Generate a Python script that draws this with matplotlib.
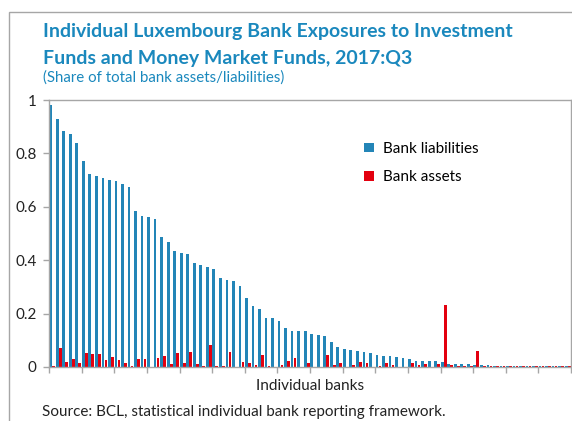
import numpy as np
import matplotlib.pyplot as plt
import matplotlib.patches as mpatches

plt.rcParams['font.family'] = ['Lato', 'DejaVu Sans']

# share of total bank liabilities / assets, one entry per bank (sorted by liabilities)
liabilities = [0.981, 0.928, 0.884, 0.873, 0.839, 0.770, 0.723, 0.715, 0.708, 0.700,
               0.697, 0.685, 0.673, 0.585, 0.564, 0.560, 0.555, 0.486, 0.470, 0.433,
               0.426, 0.423, 0.389, 0.381, 0.373, 0.368, 0.333, 0.325, 0.323, 0.304,
               0.258, 0.229, 0.219, 0.184, 0.184, 0.171, 0.145, 0.136, 0.136, 0.134,
               0.124, 0.120, 0.115, 0.095, 0.076, 0.066, 0.065, 0.061, 0.055, 0.053,
               0.044, 0.041, 0.041, 0.039, 0.034, 0.029, 0.024, 0.022, 0.022, 0.021,
               0.019, 0.012, 0.012, 0.012, 0.012, 0.008, 0.006, 0.006, 0.003, 0.003,
               0.003, 0.003, 0.002, 0.002, 0.002, 0.002, 0.002, 0.002, 0.002, 0.002]
assets = [0.002, 0.073, 0.019, 0.030, 0.016, 0.051, 0.049, 0.049, 0.025, 0.036,
          0.028, 0.014, 0.002, 0.030, 0.030, 0.000, 0.033, 0.040, 0.010, 0.053,
          0.016, 0.055, 0.012, 0.003, 0.082, 0.002, 0.003, 0.056, 0.000, 0.020,
          0.015, 0.006, 0.044, 0.002, 0.000, 0.009, 0.022, 0.033, 0.000, 0.015,
          0.000, 0.000, 0.046, 0.006, 0.014, 0.000, 0.009, 0.019, 0.014, 0.000,
          0.005, 0.014, 0.009, 0.000, 0.000, 0.014, 0.006, 0.010, 0.000, 0.010,
          0.234, 0.007, 0.003, 0.002, 0.002, 0.060, 0.003, 0.002, 0.002, 0.002,
          0.002, 0.002, 0.002, 0.002, 0.002, 0.002, 0.002, 0.002, 0.002, 0.002]
yticks = [0, 0.2, 0.4, 0.6, 0.8, 1]
yticklabels = ['0', '0.2', '0.4', '0.6', '0.8', '1']

blue = '#2385b7'
red = '#e3000f'
title_col = '#1a88bd'
grey = '#a6a6a6'

fig = plt.figure(figsize=(5.72, 4.21), dpi=100)
ax = fig.add_axes([49 / 572, 54 / 421, 522 / 572, 267 / 421])

x = np.arange(len(liabilities))
ax.bar(x - 0.24, liabilities, width=0.42, color=blue, label='Bank liabilities')
ax.bar(x + 0.22, assets, width=0.42, color=red, label='Bank assets')

ax.set_xlim(-0.5, len(x) - 0.5)
ax.set_ylim(0, 1)
ax.set_xticks(np.arange(-0.5, len(x), 5))
ax.set_xticklabels([])
ax.set_yticks(yticks)
ax.set_yticklabels(yticklabels, fontsize=11, color='#222222')
ax.tick_params(axis='both', direction='out', length=4, color=grey, width=1)
ax.tick_params(axis='y', pad=5)
for s in ax.spines.values():
    s.set_color(grey)
    s.set_linewidth(1)

ax.set_xlabel('Individual banks', fontsize=11, color='#222222', labelpad=1)

ax.legend(loc='upper left', bbox_to_anchor=(0.578, 0.895), frameon=False,
          fontsize=11, handlelength=0.6, handleheight=0.6, handletextpad=0.6,
          labelspacing=0.95)

# outer frame of the exhibit
fig.patches.append(mpatches.Rectangle((9 / 572, -0.1), 1.2, 0.1 + 409 / 421,
                                      transform=fig.transFigure, fill=False,
                                      edgecolor=grey, linewidth=1))

fig.text(43 / 572, 1 - 37 / 421, 'Individual Luxembourg Bank Exposures to Investment',
         fontsize=14, fontweight='bold', color=title_col, va='baseline')
fig.text(43 / 572, 1 - 64 / 421, 'Funds and Money Market Funds, 2017:Q3',
         fontsize=14, fontweight='bold', color=title_col, va='baseline')
fig.text(43 / 572, 1 - 82 / 421, '(Share of total bank assets/liabilities)',
         fontsize=10.8, color=title_col, va='baseline')
fig.text(42 / 572, 1 - 416 / 421,
         'Source: BCL, statistical individual bank reporting framework.',
         fontsize=11, color='#222222', va='baseline')

fig.savefig('out.png', dpi=100)
